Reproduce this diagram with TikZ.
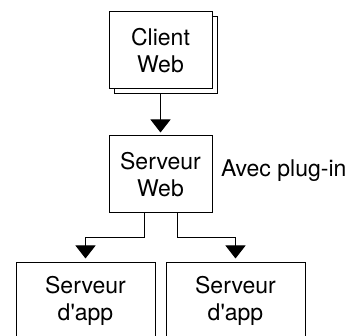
\documentclass[tikz,border=0pt]{standalone}
\usepackage{fontspec}
\setmainfont{TeX Gyre Heros}
\usetikzlibrary{arrows.meta, positioning, shadows}

\begin{document}
\begin{tikzpicture}[x=1pt, y=-1pt, line width=1pt,
		box/.style={draw, fill=white, minimum width=103pt, minimum height=77pt, inner sep=0pt, align=center, font=\fontsize{23}{27}\selectfont},
		appbox/.style={box, minimum width=139pt},
		conn/.style={-{Triangle[width=20pt,length=13pt]}, shorten >=3pt}]
				\useasboundingbox (0,0) rectangle (350,336);
				\clip (0,0) rectangle (350,336);
				
				%boxes
				\node [box, copy shadow={shadow xshift=5pt, shadow yshift=-5pt}] (client) at (160.5,50.5) {Client\\Web};
				\node [box] (web) at (160.5,174.5) {Serveur\\Web};
				\node [appbox] (app1) at (85.5,300.5) {Serveur\\d\textquotesingle app};
				\node [appbox] (app2) at (235.5,300.5) {Serveur\\d\textquotesingle app};
				
				%label
				\node [right=8pt of web, yshift=3.5pt, inner sep=0pt, font=\fontsize{23}{27}\selectfont] (plugin) {Avec plug-in};
				
				%arrows
				\draw [conn] ([yshift=-5pt]client.south) -- (web.north);
				\draw [conn] ([xshift=-16.5pt]web.south) -- ++(0,24) -| (app1.north);
				\draw [conn] ([xshift=16.5pt]web.south) -- ++(0,24) -| (app2.north);
\end{tikzpicture}
\end{document}
